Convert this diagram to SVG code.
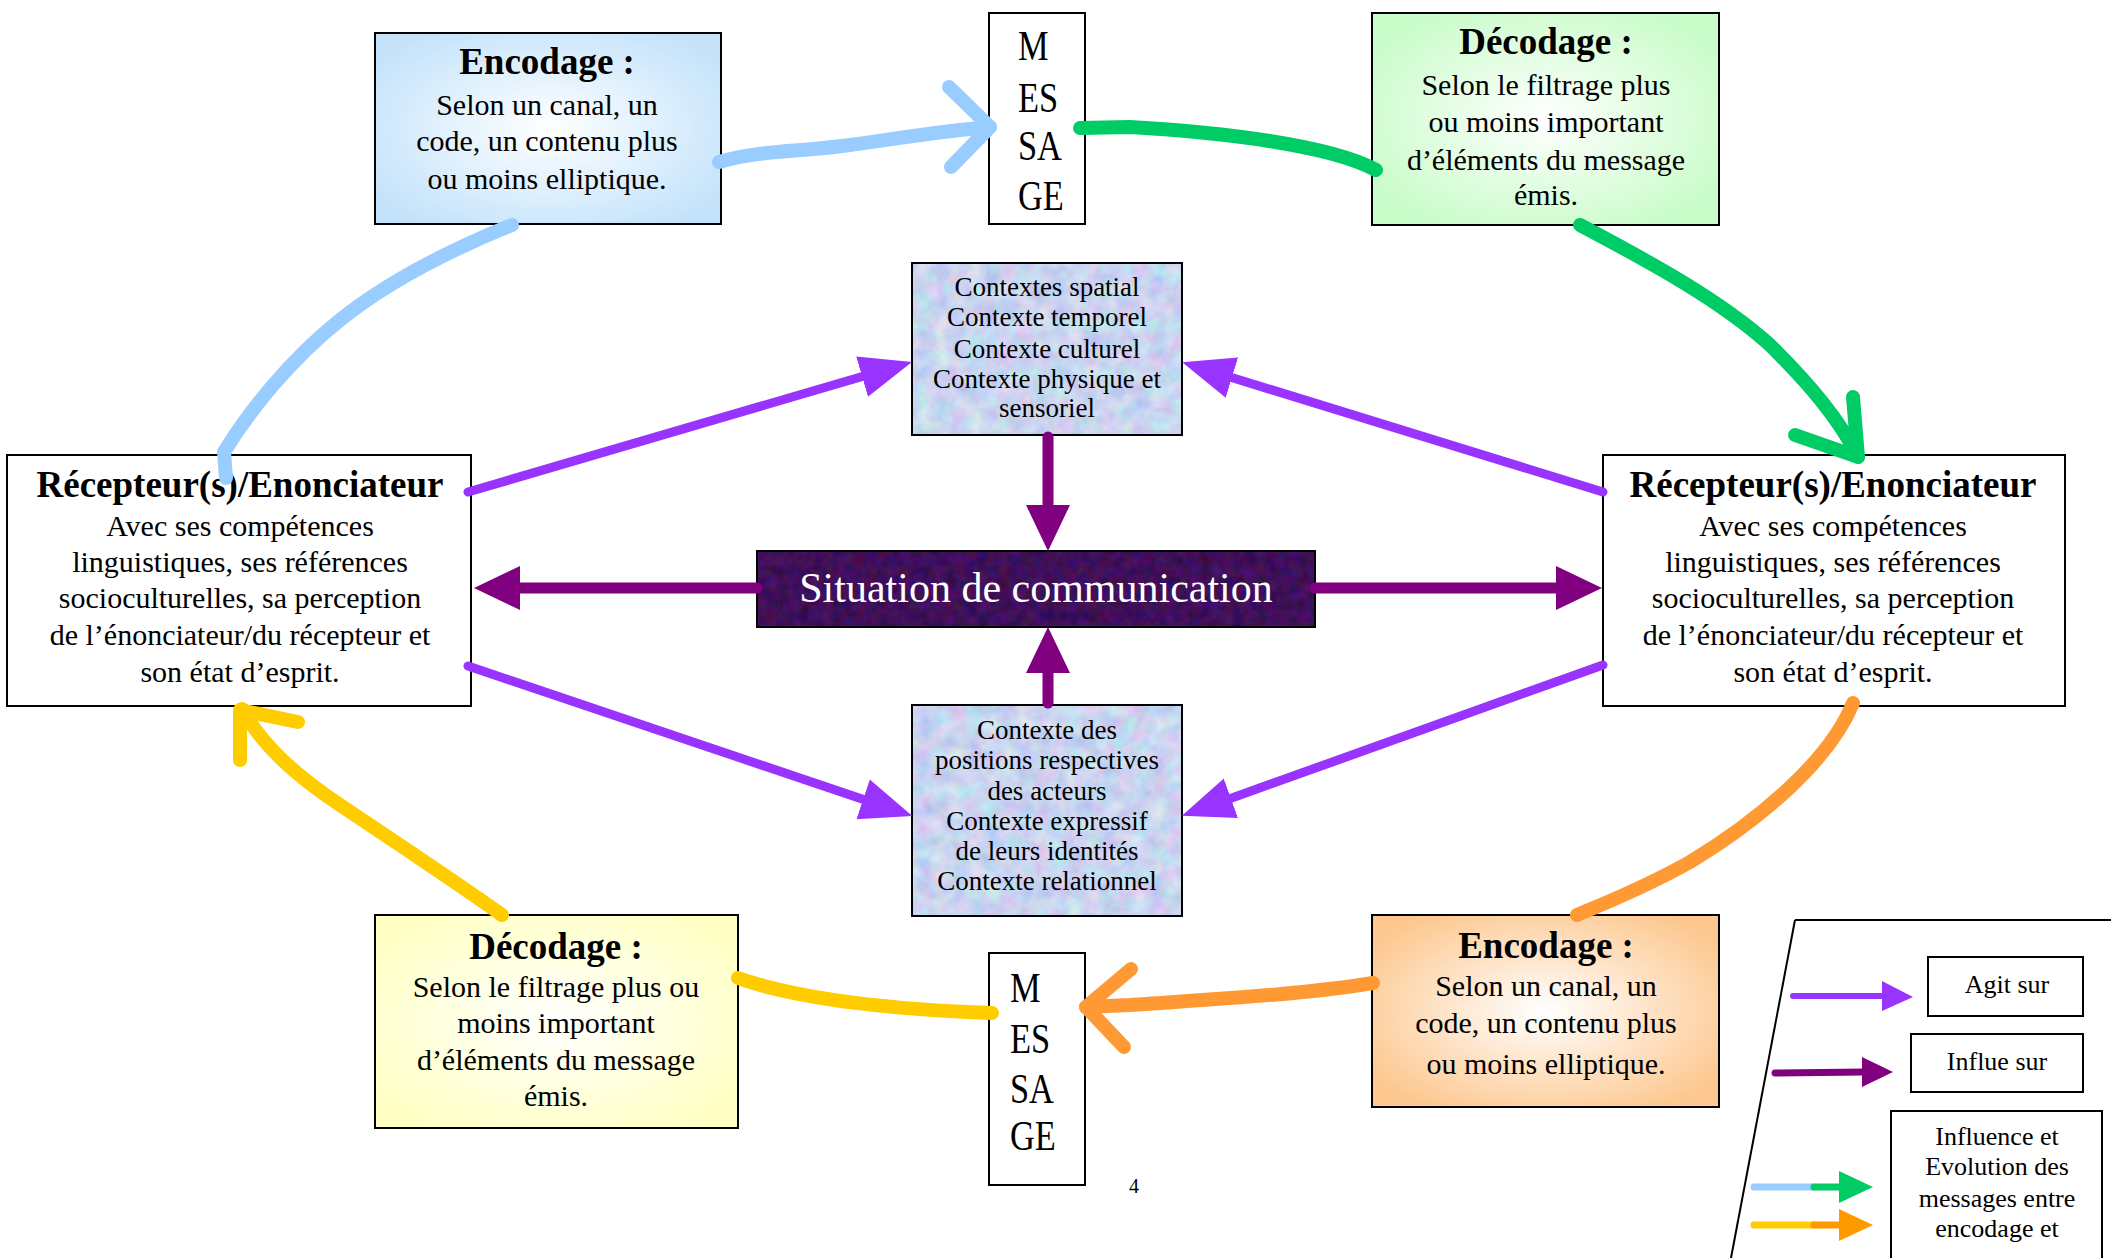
<svg xmlns="http://www.w3.org/2000/svg" width="2111" height="1258" viewBox="0 0 2111 1258">
<style>
.t{font-family:"Liberation Serif","Times New Roman",serif;fill:#000;text-anchor:middle}
.h{font-size:37px;font-weight:bold}
.b{font-size:30px}
.c{font-size:27px}
.m{font-size:43px;text-anchor:start}
.lg{font-size:26px}
.w{fill:#fff;font-size:42px}
.box{stroke:#000;stroke-width:2}
.frame{fill:none;stroke:#000;stroke-width:2}
.hand{fill:none;stroke-width:14;stroke-linecap:round;stroke-linejoin:round}
.agit{stroke:#9933ff;stroke-width:9;fill:none;stroke-linecap:round;marker-end:url(#hA)}
.infl{stroke:#800080;stroke-width:11;fill:none;stroke-linecap:round;marker-end:url(#hI)}
.lgl{fill:none;stroke-linecap:round}
</style>
<defs>
<radialGradient id="gBlue" cx="50%" cy="50%" r="60%"><stop offset="0" stop-color="#ffffff"/><stop offset="1" stop-color="#c4e3fb"/></radialGradient>
<radialGradient id="gGreen" cx="50%" cy="50%" r="60%"><stop offset="0" stop-color="#ffffff"/><stop offset="1" stop-color="#c8fcc8"/></radialGradient>
<radialGradient id="gYellow" cx="50%" cy="50%" r="60%"><stop offset="0" stop-color="#ffffff"/><stop offset="1" stop-color="#ffffc4"/></radialGradient>
<radialGradient id="gOrange" cx="50%" cy="50%" r="60%"><stop offset="0" stop-color="#ffffff"/><stop offset="1" stop-color="#fdc890"/></radialGradient>
<filter id="marble" x="0" y="0" width="100%" height="100%" color-interpolation-filters="sRGB">
<feTurbulence type="fractalNoise" baseFrequency="0.06" numOctaves="3" seed="4" result="n"/>
<feColorMatrix in="n" type="matrix" values="0.3 0 0 0 0.64  0 0.25 0 0 0.71  0 0 0.1 0 0.89  0 0 0 0 1" result="c"/>
<feComposite in="c" in2="SourceGraphic" operator="in"/>
</filter>
<filter id="dark" x="0" y="0" width="100%" height="100%" color-interpolation-filters="sRGB">
<feTurbulence type="fractalNoise" baseFrequency="0.09" numOctaves="3" seed="7" result="n"/>
<feColorMatrix in="n" type="matrix" values="0.25 0 0 0 0.12  0 0.1 0 0 0.01  0 0 0.3 0 0.2  0 0 0 0 1" result="c"/>
<feComposite in="c" in2="SourceGraphic" operator="in"/>
</filter>
<marker id="hA" markerUnits="userSpaceOnUse" markerWidth="56" markerHeight="46" refX="2" refY="23" orient="auto" viewBox="0 0 56 46"><path d="M0,2 L52,23 L0,44 z" fill="#9933ff"/></marker>
<marker id="hI" markerUnits="userSpaceOnUse" markerWidth="50" markerHeight="48" refX="2" refY="24" orient="auto" viewBox="0 0 50 48"><path d="M0,2 L46,24 L0,46 z" fill="#800080"/></marker>
</defs>

<rect width="2111" height="1258" fill="#fff"/>

<g id="encodage-top">
<rect class="box" x="375" y="33" width="346" height="191" fill="url(#gBlue)"/>
<text class="t h" x="547" y="74">Encodage :</text>
<text class="t b" x="547" y="115">Selon un canal, un</text>
<text class="t b" x="547" y="151">code, un contenu plus</text>
<text class="t b" x="547" y="189">ou moins elliptique.</text>
</g>

<g id="message-top">
<rect class="box" x="989" y="13" width="96" height="211" fill="#fff"/>
<text class="t m" transform="translate(1018,60) scale(0.8,1)">M</text>
<text class="t m" transform="translate(1018,112) scale(0.8,1)">ES</text>
<text class="t m" transform="translate(1018,160) scale(0.8,1)">SA</text>
<text class="t m" transform="translate(1018,210) scale(0.8,1)">GE</text>
</g>

<g id="decodage-top">
<rect class="box" x="1372" y="13" width="347" height="212" fill="url(#gGreen)"/>
<text class="t h" x="1546" y="54">Décodage :</text>
<text class="t b" x="1546" y="95">Selon le filtrage plus</text>
<text class="t b" x="1546" y="132">ou moins important</text>
<text class="t b" x="1546" y="170">d’éléments du message</text>
<text class="t b" x="1546" y="205">émis.</text>
</g>

<g id="contexte-haut">
<rect x="912" y="263" width="270" height="172" fill="#ccd8f2" filter="url(#marble)"/>
<rect class="frame" x="912" y="263" width="270" height="172"/>
<text class="t c" x="1047" y="296">Contextes spatial</text>
<text class="t c" x="1047" y="326">Contexte temporel</text>
<text class="t c" x="1047" y="358">Contexte culturel</text>
<text class="t c" x="1047" y="388">Contexte physique et</text>
<text class="t c" x="1047" y="417">sensoriel</text>
</g>

<g id="recepteur-gauche">
<rect class="box" x="7" y="455" width="464" height="251" fill="#fff"/>
<text class="t h" x="240" y="497">Récepteur(s)/Enonciateur</text>
<text class="t b" x="240" y="536">Avec ses compétences</text>
<text class="t b" x="240" y="572">linguistiques, ses références</text>
<text class="t b" x="240" y="608">socioculturelles, sa perception</text>
<text class="t b" x="240" y="645">de l’énonciateur/du récepteur et</text>
<text class="t b" x="240" y="682">son état d’esprit.</text>
</g>

<g id="situation">
<rect x="757" y="551" width="558" height="76" fill="#3d0f5e" filter="url(#dark)"/>
<rect class="frame" x="757" y="551" width="558" height="76"/>
<text class="t w" x="1036" y="602">Situation de communication</text>
</g>

<g id="recepteur-droite">
<rect class="box" x="1603" y="455" width="462" height="251" fill="#fff"/>
<text class="t h" x="1833" y="497">Récepteur(s)/Enonciateur</text>
<text class="t b" x="1833" y="536">Avec ses compétences</text>
<text class="t b" x="1833" y="572">linguistiques, ses références</text>
<text class="t b" x="1833" y="608">socioculturelles, sa perception</text>
<text class="t b" x="1833" y="645">de l’énonciateur/du récepteur et</text>
<text class="t b" x="1833" y="682">son état d’esprit.</text>
</g>

<g id="contexte-bas">
<rect x="912" y="705" width="270" height="211" fill="#ccd8f2" filter="url(#marble)"/>
<rect class="frame" x="912" y="705" width="270" height="211"/>
<text class="t c" x="1047" y="739">Contexte des</text>
<text class="t c" x="1047" y="769">positions respectives</text>
<text class="t c" x="1047" y="800">des acteurs</text>
<text class="t c" x="1047" y="830">Contexte expressif</text>
<text class="t c" x="1047" y="860">de leurs identités</text>
<text class="t c" x="1047" y="890">Contexte relationnel</text>
</g>

<g id="decodage-bas">
<rect class="box" x="375" y="915" width="363" height="213" fill="url(#gYellow)"/>
<text class="t h" x="556" y="959">Décodage :</text>
<text class="t b" x="556" y="997">Selon le filtrage plus ou</text>
<text class="t b" x="556" y="1033">moins important</text>
<text class="t b" x="556" y="1070">d’éléments du message</text>
<text class="t b" x="556" y="1106">émis.</text>
</g>

<g id="message-bas">
<rect class="box" x="989" y="953" width="96" height="232" fill="#fff"/>
<text class="t m" transform="translate(1010,1002) scale(0.8,1)">M</text>
<text class="t m" transform="translate(1010,1053) scale(0.8,1)">ES</text>
<text class="t m" transform="translate(1010,1103) scale(0.8,1)">SA</text>
<text class="t m" transform="translate(1010,1150) scale(0.8,1)">GE</text>
</g>

<g id="encodage-bas">
<rect class="box" x="1372" y="915" width="347" height="192" fill="url(#gOrange)"/>
<text class="t h" x="1546" y="958">Encodage :</text>
<text class="t b" x="1546" y="996">Selon un canal, un</text>
<text class="t b" x="1546" y="1033">code, un contenu plus</text>
<text class="t b" x="1546" y="1074">ou moins elliptique.</text>
</g>

<g id="page">
<text class="t" x="1134" y="1193" font-size="20">4</text>
</g>

<g id="connecteurs">
<line class="agit" x1="468" y1="492" x2="864" y2="376"/>
<line class="agit" x1="1603" y1="492" x2="1230" y2="377"/>
<line class="agit" x1="468" y1="666" x2="865" y2="800"/>
<line class="agit" x1="1603" y1="665" x2="1229" y2="799"/>
<line class="infl" x1="1048" y1="437" x2="1048" y2="507"/>
<line class="infl" x1="1048" y1="703" x2="1048" y2="671"/>
<line class="infl" x1="757" y1="588" x2="518" y2="588"/>
<line class="infl" x1="1315" y1="588" x2="1558" y2="588"/>

<path class="hand" stroke="#99ccff" d="M719,162 C760,150 800,152 850,145 C900,138 950,130 990,127"/>
<path class="hand" stroke="#99ccff" d="M949,87 L990,127 L951,167"/>
<path class="hand" stroke="#99ccff" d="M512,225 C450,250 390,280 340,320 C290,360 250,410 224,452 L226,478"/>
<path class="hand" stroke="#00cc66" d="M1080,128 L1130,127 C1220,132 1330,145 1376,170"/>
<path class="hand" stroke="#00cc66" d="M1580,225 C1650,262 1720,300 1770,345 C1810,385 1840,420 1858,457"/>
<path class="hand" stroke="#00cc66" d="M1853,397 L1858,457 L1795,435"/>
<path class="hand" stroke="#ff9933" d="M1853,703 C1830,760 1760,820 1690,862 C1640,890 1600,905 1577,915"/>
<path class="hand" stroke="#ff9933" d="M1373,983 C1300,995 1200,1000 1130,1005 L1086,1007"/>
<path class="hand" stroke="#ff9933" d="M1131,969 L1086,1007 L1124,1047"/>
<path class="hand" stroke="#ffcc00" d="M992,1013 C900,1010 800,1000 738,978"/>
<path class="hand" stroke="#ffcc00" d="M502,915 C460,885 400,845 340,805 C295,775 262,745 242,709"/>
<path class="hand" stroke="#ffcc00" d="M240,760 L240,710 L298,722"/>
</g>

<g id="legende">
<line x1="1795" y1="920" x2="1731" y2="1258" stroke="#000" stroke-width="2"/>
<line x1="1795" y1="920" x2="2111" y2="920" stroke="#000" stroke-width="2"/>
<rect class="frame" x="1928" y="957" width="155" height="59"/>
<text class="t lg" x="2007" y="993">Agit sur</text>
<rect class="frame" x="1911" y="1034" width="172" height="58"/>
<text class="t lg" x="1997" y="1070">Influe sur</text>
<rect class="frame" x="1891" y="1111" width="211" height="170"/>
<text class="t lg" x="1997" y="1145">Influence et</text>
<text class="t lg" x="1997" y="1175">Evolution des</text>
<text class="t lg" x="1997" y="1207">messages entre</text>
<text class="t lg" x="1997" y="1237">encodage et</text>
<line class="lgl" x1="1793" y1="996" x2="1884" y2="996" stroke="#9933ff" stroke-width="6"/>
<polygon points="1882,981 1913,997 1882,1011" fill="#9933ff"/>
<line class="lgl" x1="1775" y1="1073" x2="1864" y2="1072" stroke="#800080" stroke-width="7"/>
<polygon points="1862,1057 1893,1072 1862,1087" fill="#800080"/>
<line class="lgl" x1="1754" y1="1187" x2="1814" y2="1187" stroke="#99ccff" stroke-width="7"/>
<line class="lgl" x1="1814" y1="1187" x2="1841" y2="1187" stroke="#00cc66" stroke-width="7"/>
<polygon points="1839,1171 1873,1187 1839,1203" fill="#00cc66"/>
<line class="lgl" x1="1754" y1="1225" x2="1814" y2="1225" stroke="#ffcc00" stroke-width="7"/>
<line class="lgl" x1="1814" y1="1225" x2="1841" y2="1225" stroke="#ff9900" stroke-width="7"/>
<polygon points="1839,1209 1873,1225 1839,1241" fill="#ff9900"/>
</g>
</svg>
